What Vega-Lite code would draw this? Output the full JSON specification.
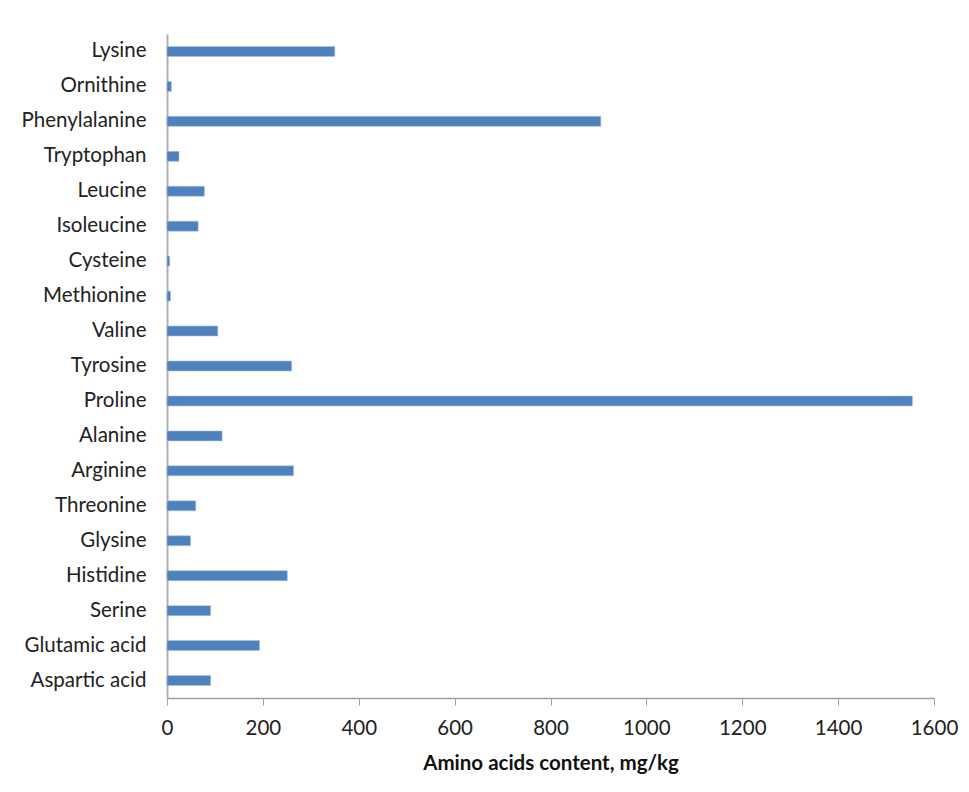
{
  "$schema": "https://vega.github.io/schema/vega-lite/v6.json",
  "autosize": {"type": "none"},
  "padding": {"left": 167, "top": 34, "right": 35, "bottom": 94},
  "width": 767,
  "height": 664,
  "background": "white",
  "config": {
    "view": {"stroke": null},
    "font": "Lato",
    "axis": {"grid": false}
  },
  "data": {
    "values": [
      {"amino": "Lysine", "value": 350},
      {"amino": "Ornithine", "value": 9},
      {"amino": "Phenylalanine", "value": 905},
      {"amino": "Tryptophan", "value": 25},
      {"amino": "Leucine", "value": 78},
      {"amino": "Isoleucine", "value": 65},
      {"amino": "Cysteine", "value": 5.5},
      {"amino": "Methionine", "value": 7.5},
      {"amino": "Valine", "value": 106},
      {"amino": "Tyrosine", "value": 260},
      {"amino": "Proline", "value": 1555},
      {"amino": "Alanine", "value": 115},
      {"amino": "Arginine", "value": 264},
      {"amino": "Threonine", "value": 60},
      {"amino": "Glysine", "value": 49},
      {"amino": "Histidine", "value": 251},
      {"amino": "Serine", "value": 91},
      {"amino": "Glutamic acid", "value": 193},
      {"amino": "Aspartic acid", "value": 91}
    ]
  },
  "mark": {"type": "bar", "color": "#4f81bd", "stroke": "#a9c1e0", "strokeWidth": 0.6},
  "encoding": {
    "y": {
      "field": "amino",
      "type": "nominal",
      "sort": null,
      "scale": {"paddingInner": 0.714, "paddingOuter": 0.357},
      "axis": {
        "title": null,
        "ticks": false,
        "tickSize": 0,
        "labelPadding": 21,
        "labelFontSize": 20.5,
        "labelColor": "#222222",
        "labelFont": "Lato",
        "domainColor": "#b0b0b0",
        "domainWidth": 2
      }
    },
    "x": {
      "field": "value",
      "type": "quantitative",
      "scale": {"domain": [0, 1600], "nice": false},
      "axis": {
        "values": [0, 200, 400, 600, 800, 1000, 1200, 1400, 1600],
        "format": "d",
        "title": "Amino acids content, mg/kg",
        "titleFont": "Lato",
        "titleFontSize": 20.5,
        "titleFontWeight": "bold",
        "titleColor": "#111111",
        "titlePadding": 15,
        "labelFontSize": 20.5,
        "labelColor": "#222222",
        "labelPadding": 13,
        "labelFlush": false,
        "tickSize": 7,
        "tickColor": "#a0a0a0",
        "domainColor": "#a0a0a0",
        "domainWidth": 1.3,
        "labelFont": "Lato"
      }
    }
  }
}
